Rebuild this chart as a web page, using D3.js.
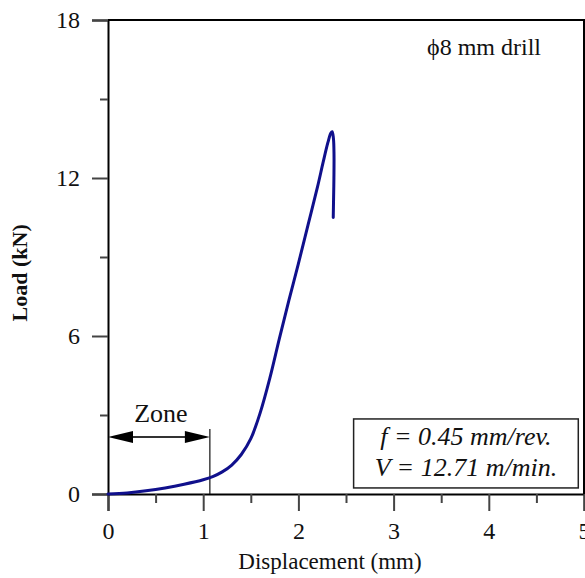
<!DOCTYPE html>
<html>
<head>
<meta charset="utf-8">
<script src="https://cdn.jsdelivr.net/npm/d3@7"></script>
<style>
  body { margin: 0; background: #fff; }
  text { font-family: "Liberation Serif", "Times New Roman", serif; fill: #111; }
</style>
</head>
<body>
<div id="wrapper"></div>
<script>
// load-displacement curve
const displacement = [0, 0.2, 0.4, 0.6, 0.8, 1.0, 1.1, 1.2, 1.3, 1.4, 1.5, 1.6, 1.7, 1.8, 1.9, 2.0, 2.1, 2.2, 2.26, 2.31, 2.34, 2.355, 2.368, 2.374, 2.373, 2.369, 2.366]
const load = [0, 0.04, 0.12, 0.23, 0.37, 0.54, 0.66, 0.84, 1.1, 1.5, 2.1, 3.1, 4.4, 5.9, 7.35, 8.75, 10.2, 11.65, 12.6, 13.35, 13.7, 13.76, 13.5, 12.9, 12.0, 11.1, 10.5]

const xMajorTicks = [0, 1, 2, 3, 4, 5]
const xMinorTicks = [0.5, 1.5, 2.5, 3.5, 4.5]
const yMajorTicks = [0, 6, 12, 18]
const yMinorTicks = [3, 9, 15]

const zoneEnd = 1.07
const zoneLabel = "Zone"
const drillLabel = "\u03d58 mm drill"
const conditionLines = ["f = 0.45 mm/rev.", "V = 12.71 m/min."]

function drawChart() {
  let dimensions = {
    width: 585,
    height: 578,
    margin: { top: 20, right: 1, bottom: 84, left: 108 }
  }
  dimensions.boundedWidth = dimensions.width - dimensions.margin.left - dimensions.margin.right
  dimensions.boundedHeight = dimensions.height - dimensions.margin.top - dimensions.margin.bottom

  const wrapper = d3.select("#wrapper")
    .append("svg")
      .attr("width", dimensions.width)
      .attr("height", dimensions.height)

  const bounds = wrapper.append("g")
    .attr("transform", `translate(${dimensions.margin.left},${dimensions.margin.top})`)

  const xScale = d3.scaleLinear()
    .domain([0, 5])
    .range([0, dimensions.boundedWidth])

  const yScale = d3.scaleLinear()
    .domain([0, 18])
    .range([dimensions.boundedHeight, 0])

  // frame top + right
  bounds.append("path")
    .attr("d", `M0,0H${dimensions.boundedWidth}V${dimensions.boundedHeight}`)
    .attr("fill", "none")
    .attr("stroke", "#000")
    .attr("stroke-width", 2)

  // x axis
  bounds.append("g")
    .attr("transform", `translate(0,${dimensions.boundedHeight})`)
    .call(d3.axisBottom(xScale).tickValues(xMajorTicks).tickSize(17).tickPadding(11).tickFormat(d3.format("d")))
  bounds.append("g")
    .attr("transform", `translate(0,${dimensions.boundedHeight})`)
    .call(d3.axisBottom(xScale).tickValues(xMinorTicks).tickSize(9).tickFormat(""))
    .call(g => g.select(".domain").remove())

  // y axis
  bounds.append("g")
    .call(d3.axisLeft(yScale).tickValues(yMajorTicks).tickSize(16).tickPadding(12).tickFormat(d3.format("d")))
  bounds.append("g")
    .call(d3.axisLeft(yScale).tickValues(yMinorTicks).tickSize(8).tickFormat(""))
    .call(g => g.select(".domain").remove())

  bounds.selectAll(".domain").attr("stroke", "#000").attr("stroke-width", 2)
  bounds.selectAll(".tick line").attr("stroke", "#444").attr("stroke-width", 2)
  bounds.selectAll(".tick text")
    .style("font-family", '"Liberation Serif", serif')
    .style("font-size", "24px")
    .attr("fill", "#111")

  // axis titles
  wrapper.append("text")
    .attr("x", 330)
    .attr("y", 569)
    .attr("text-anchor", "middle")
    .style("font-size", "23px")
    .text("Displacement (mm)")

  wrapper.append("text")
    .attr("transform", `translate(27,${dimensions.margin.top + yScale(8.4)}) rotate(-90)`)
    .attr("text-anchor", "middle")
    .style("font-size", "22px")
    .style("font-weight", "bold")
    .text("Load (kN)")

  // zone annotation
  const zx = xScale(zoneEnd)
  const ay = yScale(2.16)
  bounds.append("line")
    .attr("x1", zx).attr("x2", zx)
    .attr("y1", yScale(2.47)).attr("y2", yScale(0))
    .attr("stroke", "#111")
    .attr("stroke-width", 1.2)
  bounds.append("line")
    .attr("x1", xScale(0) + 10).attr("x2", zx - 10)
    .attr("y1", ay).attr("y2", ay)
    .attr("stroke", "#333")
    .attr("stroke-width", 2)
  bounds.append("path")
    .attr("d", `M${xScale(0)},${ay}L${xScale(0) + 25},${ay - 6}V${ay + 6}Z`)
    .attr("fill", "#000")
  bounds.append("path")
    .attr("d", `M${zx},${ay}L${zx - 25},${ay - 6}V${ay + 6}Z`)
    .attr("fill", "#000")
  bounds.append("text")
    .attr("x", (xScale(0) + zx) / 2 + 2)
    .attr("y", yScale(2.75))
    .attr("text-anchor", "middle")
    .style("font-size", "26px")
    .text(zoneLabel)

  // curve
  const points = displacement.map((d, i) => [d, load[i]])
  const lineGenerator = d3.line()
    .x(d => xScale(d[0]))
    .y(d => yScale(d[1]))
    .curve(d3.curveCatmullRom.alpha(0.5))

  bounds.append("path")
    .attr("d", lineGenerator(points))
    .attr("fill", "none")
    .attr("stroke", "#10108c")
    .attr("stroke-width", 3)
    .attr("stroke-linecap", "round")

  // drill label
  bounds.append("text")
    .attr("x", xScale(3.95))
    .attr("y", yScale(16.67))
    .attr("text-anchor", "middle")
    .style("font-size", "24px")
    .text(drillLabel)

  // cutting conditions box
  const bx0 = xScale(2.58), bx1 = xScale(4.94)
  const by0 = yScale(2.85), by1 = yScale(0.23)
  bounds.append("rect")
    .attr("x", bx0).attr("y", by0)
    .attr("width", bx1 - bx0).attr("height", by1 - by0)
    .attr("fill", "#fff")
    .attr("stroke", "#222")
    .attr("stroke-width", 1.5)
  bounds.selectAll(".cond")
    .data(conditionLines)
    .join("text")
      .attr("class", "cond")
      .attr("x", (bx0 + bx1) / 2)
      .attr("y", (d, i) => by0 + 26 + i * 31)
      .attr("text-anchor", "middle")
      .style("font-size", "26px")
      .style("font-style", "italic")
      .text(d => d)
}

drawChart()
</script>
</body>
</html>
